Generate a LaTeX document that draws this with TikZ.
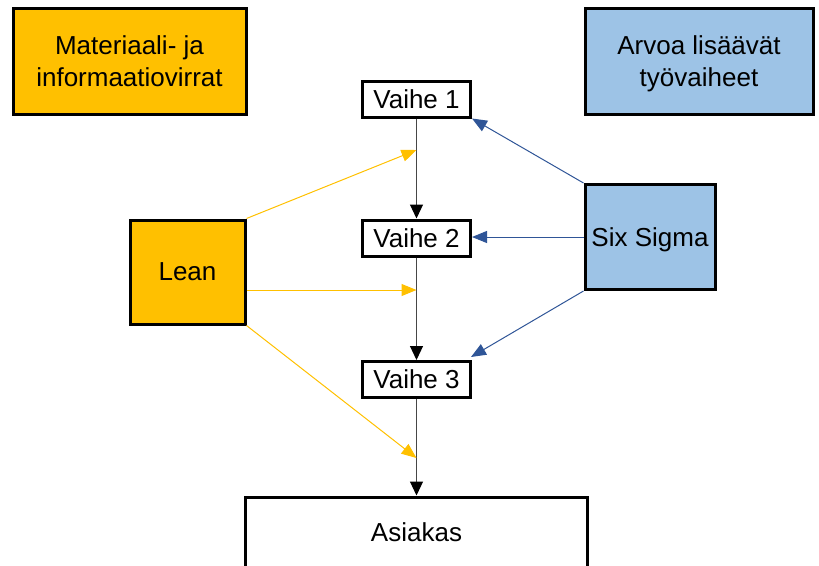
\documentclass[tikz,border=0pt]{standalone}
\usepackage{fontspec}
\setmainfont{Liberation Sans}
\usetikzlibrary{arrows.meta}
\definecolor{leanorange}{RGB}{255,192,0}
\definecolor{sigmablue}{RGB}{157,195,230}
\definecolor{sigmaline}{RGB}{47,85,151}
\definecolor{flowgray}{RGB}{70,70,70}
\tikzset{
  box/.style={draw=black, line width=3pt, align=center, inner sep=0pt,
    text depth=0pt, font=\fontsize{26}{32}\selectfont},
  orangebox/.style={box, fill=leanorange},
  bluebox/.style={box, fill=sigmablue},
  stepbox/.style={box, fill=white, minimum width=108pt, minimum height=36pt},
  flow/.style={draw=flowgray, line width=1.2pt, -{Triangle[length=14pt,width=13pt,color=black]}},
  leanarrow/.style={draw=leanorange, line width=1pt, -{Triangle[length=15pt,width=12pt]}},
  sigmaarrow/.style={draw=sigmaline, line width=1pt, -{Triangle[length=15pt,width=12pt]}},
}
\begin{document}
\begin{tikzpicture}[x=1pt, y=-1pt]
  \useasboundingbox (0,0) rectangle (819,565);
  \clip (0,0) rectangle (819,565);

  % legend boxes
  \node[orangebox, minimum width=233pt, minimum height=106pt] (legflow) at (129.5,61) {Materiaali- ja\\informaatiovirrat};
  \node[bluebox, minimum width=228pt, minimum height=106pt] (legvalue) at (699,61) {Arvoa lisäävät\\työvaiheet};

  % process steps
  \node[stepbox] (v1) at (416.5,99) {Vaihe 1};
  \node[stepbox] (v2) at (416.5,238) {Vaihe 2};
  \node[stepbox] (v3) at (416.5,379.5) {Vaihe 3};
  \node[box, fill=white, minimum width=342pt, minimum height=70pt] (asiakas) at (416.5,532) {Asiakas};

  % methods
  \node[orangebox, minimum width=115pt, minimum height=104pt] (lean) at (187.5,272) {Lean};
  \node[bluebox, minimum width=130pt, minimum height=105pt] (sigma) at (650,237) {Six Sigma};

  % main flow
  \draw[flow] (v1.south) -- (v2.north);
  \draw[flow] (v2.south) -- (v3.north);
  \draw[flow] (v3.south) -- (asiakas.north);

  % Lean influence on the flow
  \coordinate (lt1) at (416.5,150);
  \coordinate (lt2) at (416.5,290);
  \coordinate (lt3) at (416.5,458);
  \draw[leanarrow] (lean.north east) -- (lt1);
  \draw[leanarrow] (lean.east |- lt2) -- (lt2);
  \draw[leanarrow] (lean.south east) -- (lt3);

  % Six Sigma influence on the steps
  \coordinate (st3) at (471,357);
  \draw[sigmaarrow] (sigma.north west) -- (v1.south east);
  \draw[sigmaarrow] (sigma.west) -- (sigma.west -| v2.east);
  \draw[sigmaarrow] (sigma.south west) -- (st3);
\end{tikzpicture}
\end{document}
